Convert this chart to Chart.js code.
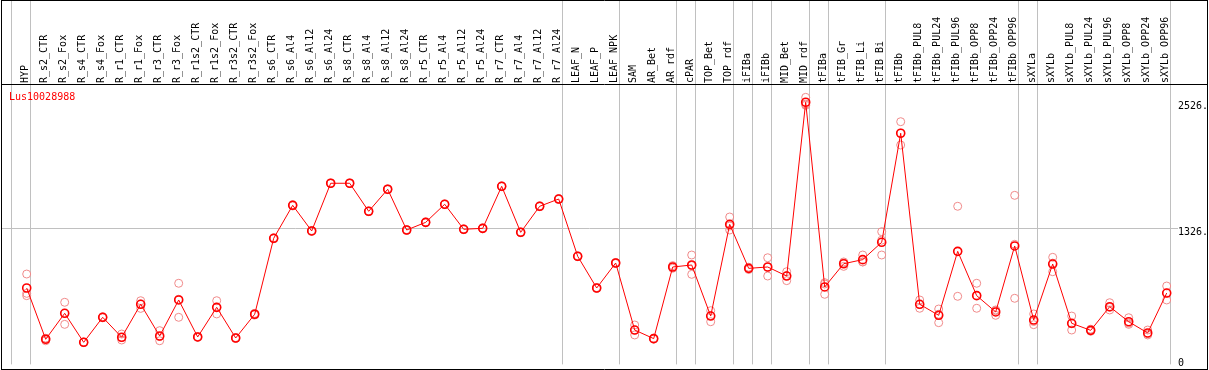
<!DOCTYPE html>
<html><head><meta charset="utf-8">
<script src="https://cdn.jsdelivr.net/npm/chart.js@4.4.0/dist/chart.umd.min.js"></script>
<style>html,body{margin:0;padding:0;background:#fff;overflow:hidden}canvas{display:block}</style>
</head><body>
<canvas id="c" width="1209" height="370"></canvas>
<script>
const seriesName = 'Lus10028988';
const categories = ['HYP','R_s2_CTR','R_s2_Fox','R_s4_CTR','R_s4_Fox','R_r1_CTR','R_r1_Fox','R_r3_CTR','R_r3_Fox','R_r1s2_CTR','R_r1s2_Fox','R_r3s2_CTR','R_r3s2_Fox','R_s6_CTR','R_s6_Al4','R_s6_Al12','R_s6_Al24','R_s8_CTR','R_s8_Al4','R_s8_Al12','R_s8_Al24','R_r5_CTR','R_r5_Al4','R_r5_Al12','R_r5_Al24','R_r7_CTR','R_r7_Al4','R_r7_Al12','R_r7_Al24','LEAF_N','LEAF_P','LEAF_NPK','SAM','AR_Bet','AR_rdf','cPAR','TOP_Bet','TOP_rdf','iFIBa','iFIBb','MID_Bet','MID_rdf','tFIBa','tFIB_Gr','tFIB_Li','tFIB_Bi','tFIBb','tFIBb_PUL8','tFIBb_PUL24','tFIBb_PUL96','tFIBb_OPP8','tFIBb_OPP24','tFIBb_OPP96','sXYLa','sXYLb','sXYLb_PUL8','sXYLb_PUL24','sXYLb_PUL96','sXYLb_OPP8','sXYLb_OPP24','sXYLb_OPP96'];
const meanValues = [752,264,511,235,473,283,597,295,638,286,568,276,502,1225,1539,1295,1749,1749,1482,1692,1304,1377,1549,1311,1320,1720,1282,1530,1599,1054,752,990,352,270,952,971,485,1358,939,952,866,2520,762,983,1022,1187,2225,597,492,1101,679,524,1152,447,980,416,349,574,431,324,704];
const rep1 = [885,273,616,238,478,314,631,346,797,290,631,280,510,1230,1545,1300,1752,1752,1486,1696,1308,1380,1552,1315,1324,1724,1286,1534,1603,1058,756,995,400,275,965,1066,536,1428,950,1040,907,2567,803,958,1066,1288,2335,638,552,1530,797,492,1634,505,1044,485,360,612,469,352,771];
const rep2 = [701,250,406,232,468,257,558,250,473,282,505,272,495,1220,1533,1290,1746,1746,1478,1688,1300,1374,1546,1307,1316,1716,1278,1526,1595,1050,748,985,305,265,940,882,431,1304,928,866,822,2491,692,1000,1000,1066,2113,559,422,673,559,537,654,403,907,352,340,543,406,305,638];
const rep3 = [679,273,511,235,473,280,600,290,645,286,568,276,502,1225,1539,1295,1749,1749,1482,1692,1304,1377,1549,1311,1320,1720,1282,1530,1599,1054,752,990,352,270,952,965,488,1342,939,950,870,2502,790,990,1000,1207,2227,594,502,1100,681,543,1168,433,989,411,347,567,418,315,703];
const groupBreaks = [-1,0,28,31,34,35,37,38,39,41,42,45,52,53,60];
const yTickValues = [0,1326,2526];
const yTickLabels = ['0','1326.','2526.'];
const yGridValues = [1326];

const FONT = '10px "DejaVu Sans Mono", monospace';
const pts = arr => arr.map((v,i)=>({x:i,y:v}));

// axis geometry: first category pixel, category step, pixel of value 0, pixels per unit
const X_FIRST = 26.7, X_STEP = 19, Y_ZERO = 367, Y_PER_UNIT = 139.3/1326;

const fitPlugin = {
  id:'fit',
  afterLayout(chart){
    const x = chart.scales.x, y = chart.scales.y;
    x.options.min = (x.left - X_FIRST)/X_STEP;
    x.options.max = (x.right - X_FIRST)/X_STEP;
    x.min = x.options.min; x.max = x.options.max;
    x.configure();
    y.options.min = (Y_ZERO - y.bottom)/Y_PER_UNIT;
    y.options.max = (Y_ZERO - y.top)/Y_PER_UNIT;
    y.min = y.options.min; y.max = y.options.max;
    y.configure();
  }
};

const framePlugin = {
  id:'frame',
  beforeDatasetsDraw(chart){
    const {ctx, chartArea:ca, scales:{x,y}} = chart;
    ctx.save();
    ctx.strokeStyle = '#c0c0c0'; ctx.lineWidth = 1;
    groupBreaks.forEach(b=>{
      const px = Math.round(x.getPixelForValue(b+0.19))+0.5;
      ctx.beginPath(); ctx.moveTo(px,0); ctx.lineTo(px,ca.bottom); ctx.stroke();
    });
    yGridValues.forEach(v=>{
      const py = Math.round(y.getPixelForValue(v))+0.5;
      ctx.beginPath(); ctx.moveTo(1,py); ctx.lineTo(ca.right+1,py); ctx.stroke();
    });
    ctx.restore();
  },
  afterDraw(chart){
    const {ctx, chartArea:ca, scales:{y}} = chart;
    ctx.save();
    ctx.strokeStyle = '#000'; ctx.lineWidth = 1;
    ctx.beginPath();
    ctx.moveTo(1.5,0.5); ctx.lineTo(1207.5,0.5);
    ctx.moveTo(1.5,0); ctx.lineTo(1.5,370);
    ctx.moveTo(1207.5,0); ctx.lineTo(1207.5,370);
    ctx.moveTo(1.5,Math.round(ca.top)-0.5); ctx.lineTo(1207.5,Math.round(ca.top)-0.5);
    ctx.moveTo(1.5,369.5); ctx.lineTo(1207.5,369.5);
    ctx.stroke();
    ctx.font = FONT;
    ctx.fillStyle = '#000'; ctx.textAlign = 'left';
    yTickValues.forEach((v,i)=>{
      const py = y.getPixelForValue(v);
      if (py + 12 > ca.bottom) { ctx.textBaseline = 'bottom'; ctx.fillText(yTickLabels[i], ca.right+1, py+1); }
      else { ctx.textBaseline = 'top'; ctx.fillText(yTickLabels[i], ca.right+1, py); }
    });
    ctx.fillStyle = '#ff0000'; ctx.textBaseline = 'middle';
    ctx.fillText(seriesName, 9, ca.top + 12);
    ctx.restore();
  }
};

new Chart(document.getElementById('c'), {
  type:'scatter',
  data:{ datasets:[
    { label:seriesName, data:pts(meanValues), showLine:true, borderColor:'#ff0000', borderWidth:1,
      pointRadius:4, pointBorderWidth:1.6, pointBorderColor:'#ff0000', pointBackgroundColor:'rgba(0,0,0,0)', order:0 },
    { label:'rep1', data:pts(rep1), showLine:false, pointRadius:4, pointBorderWidth:1, pointBorderColor:'#f08a8a', pointBackgroundColor:'rgba(0,0,0,0)', order:1 },
    { label:'rep2', data:pts(rep2), showLine:false, pointRadius:4, pointBorderWidth:1, pointBorderColor:'#f08a8a', pointBackgroundColor:'rgba(0,0,0,0)', order:1 },
    { label:'rep3', data:pts(rep3), showLine:false, pointRadius:4, pointBorderWidth:1, pointBorderColor:'#f08a8a', pointBackgroundColor:'rgba(0,0,0,0)', order:1 }
  ]},
  options:{
    responsive:false, animation:false, devicePixelRatio:1,
    layout:{ padding:{ left:2, right:32, top:0, bottom:1 } },
    plugins:{ legend:{display:false}, tooltip:{enabled:false} },
    scales:{
      x:{ type:'linear', position:'top', min:-1.3, max:60.54,
        afterBuildTicks: s => { s.ticks = categories.map((c,i)=>({value:i})); },
        afterFit: s => { s.height = 85; s.paddingLeft = 0; s.paddingRight = 0; },
        grid:{display:false, drawTicks:false}, border:{display:false},
        ticks:{ autoSkip:false, maxRotation:90, minRotation:90, padding:2, labelOffset:10.5, color:'#000',
          font:{family:'"DejaVu Sans Mono", monospace', size:10},
          callback: v => categories[v] }
      },
      y:{ type:'linear', display:false, min:-19, max:2684 }
    }
  },
  plugins:[fitPlugin, framePlugin]
});
</script>
</body></html>
